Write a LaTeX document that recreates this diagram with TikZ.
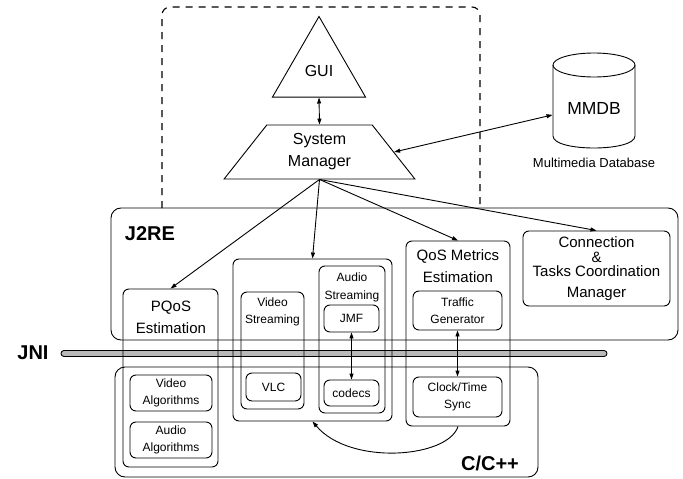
\documentclass[tikz,border=0pt]{standalone}
\usepackage{fontspec}
\setmainfont{Liberation Sans}
\usetikzlibrary{shapes.geometric,arrows.meta,calc}

\tikzset{
  txtS/.style={font=\fontsize{12}{17.5}\selectfont, align=center, inner sep=0pt},
  txtM/.style={font=\fontsize{15}{21.5}\selectfont, align=center, inner sep=0pt},
  txtL/.style={font=\fontsize{16}{22}\selectfont, align=center, inner sep=0pt},
  lbl/.style={font=\fontsize{20}{24}\selectfont\bfseries, inner sep=0pt},
  box/.style={draw, rounded corners=6pt, line width=0.9pt, inner sep=0pt},
  bigbox/.style={box, rounded corners=10pt},
  tip/.tip={Triangle[length=6pt,width=4pt]},
  arr/.style={-tip, line width=0.9pt},
  darr/.style={tip-tip, line width=0.9pt},
}

\begin{document}
\begin{tikzpicture}[x=1pt, y=-1pt, line width=0.9pt]
\useasboundingbox (0,0) rectangle (683,479);

% JNI bar, drawn first so the box outlines cross over it
\node[draw, fill=gray!55, rounded corners=3pt, minimum width=546pt,
      minimum height=6pt, inner sep=0pt] (jni) at (334,353.5) {};
\node[lbl] (jniT) at (33,353) {JNI};

% layer containers
\node[bigbox, minimum width=567pt, minimum height=132pt] (j2re) at (394.5,274) {};
\node[lbl] (j2reT) at (150,233.5) {J2RE};
\node[bigbox, minimum width=423pt, minimum height=110pt] (cpp) at (326.5,422) {};
\node[lbl] (cppT) at (490,463) {C/C++};

% dashed frame around the user interface part
\draw[line width=1.1pt, dash pattern=on 7pt off 6pt, rounded corners=8pt]
  (162,208) -- (162,7) -- (480,7) -- (480,208);

% GUI and system manager
\node[draw, regular polygon, regular polygon sides=3, minimum size=107.4pt,
      inner sep=0pt, txtL] (gui) at (319,70.2) {};
\node[txtL] (guiT) at (319,71) {GUI};
\node[draw, trapezium, trapezium left angle=55, trapezium right angle=55,
      trapezium stretches=true, minimum width=191pt, minimum height=54pt,
      txtL] (sm) at (319.5,152) {System\\Manager};

% multimedia database
\node[minimum width=82pt, minimum height=95pt, inner sep=0pt] (mmdb) at (594,100.5) {};
\draw (594,65) ellipse [x radius=41pt, y radius=12pt];
\draw (553,65) -- (553,136) .. controls (553,152) and (635,152) .. (635,136) -- (635,65);
\node[font=\fontsize{17.5}{20}\selectfont, inner sep=0pt] (mmdbT) at (594,108) {MMDB};
\node[font=\fontsize{13}{15}\selectfont, inner sep=0pt] (mmdbC) at (594,163) {Multimedia Database};

% PQoS estimation
\node[box, minimum width=95pt, minimum height=178pt] (pqos) at (170.5,378) {};
\node[txtM] (pqosT) at (171,317.5) {PQoS\\Estimation};
\node[box, txtS, minimum width=82pt, minimum height=36pt] (valg) at (171,393) {Video\\Algorithms};
\node[box, txtS, minimum width=82pt, minimum height=36pt] (aalg) at (171,440) {Audio\\Algorithms};

% streaming
\node[box, minimum width=159pt, minimum height=162pt] (strm) at (312.5,340) {};
\node[box, minimum width=63pt, minimum height=117pt] (vstr) at (272.5,350.5) {};
\node[txtS] (vstrT) at (272.5,312) {Video\\Streaming};
\node[box, txtS, minimum width=55pt, minimum height=28pt] (vlc) at (273.5,387) {VLC};
\node[box, minimum width=66pt, minimum height=147pt] (astr) at (352,339.5) {};
\node[txtS] (astrT) at (352,287.5) {Audio\\Streaming};
\node[box, txtS, minimum width=55pt, minimum height=27pt] (jmf) at (351.5,318.5) {JMF};
\node[box, txtS, minimum width=55pt, minimum height=26pt] (codecs) at (351.5,393) {codecs};

% QoS metrics estimation
\node[box, minimum width=104pt, minimum height=185pt] (qos) at (458,333.5) {};
\node[txtM] (qosT) at (458,266) {QoS Metrics\\Estimation};
\node[box, txtS, minimum width=89pt, minimum height=39pt] (traffic) at (457.5,310.5) {Traffic\\Generator};
\node[box, txtS, minimum width=89pt, minimum height=40pt] (clock) at (457.5,397) {Clock/Time\\Sync};

% connection manager
\node[box, txtM, font=\fontsize{15}{17}\selectfont, minimum width=147pt,
      minimum height=75pt] (conn) at (596.5,268.5)
  {Connection\\[-2pt]\&\\[-3pt]Tasks Coordination\\[4pt]Manager};

% connectors
\draw[darr] (gui.south) -- (sm.north);
\draw[darr] (sm.east) -- ($(mmdb.north west)!0.65!(mmdb.south west)$);
\draw[arr] (sm.south) -- (pqos.north);
\draw[arr] (sm.south) -- (strm.north);
\draw[arr] (sm.south) -- (qos.north);
\draw[arr] (sm.south) -- (conn.north);
\draw[darr] (jmf.south) -- (codecs.north);
\draw[darr] (traffic.south) -- (clock.north);
\draw[arr] (qos.south) .. controls (448,458) and (350,466) .. (strm.south);
\end{tikzpicture}
\end{document}
